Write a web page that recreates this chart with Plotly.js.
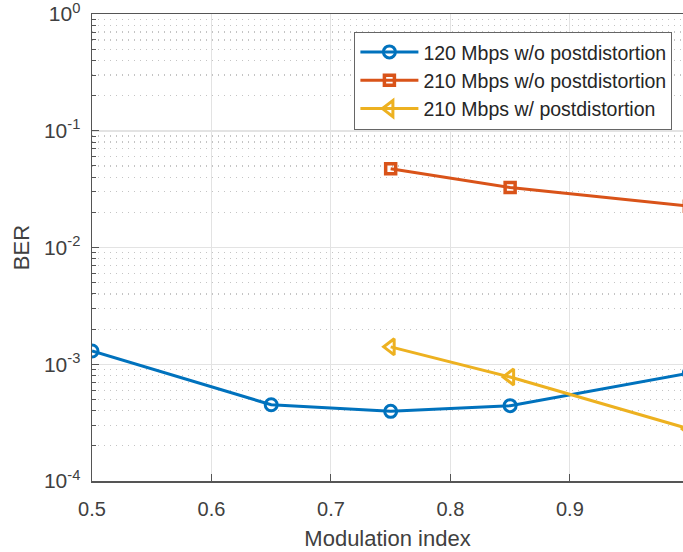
<!DOCTYPE html>
<html>
<head>
<meta charset="utf-8">
<script src="https://cdn.plot.ly/plotly-3.0.1.min.js"></script>
<style>html,body{margin:0;padding:0;background:#fff;}#chart{width:683px;height:552px;}</style>
</head>
<body>
<div id="chart"></div>
<script>
const modIndex = [0.5, 0.65, 0.75, 0.85, 1.0];
const ber120 = [1.30e-3, 4.5e-4, 3.95e-4, 4.42e-4, 8.4e-4];
const modIndex210 = [0.75, 0.85, 1.0];
const ber210NoPD = [0.0472, 0.0326, 0.0226];
const ber210PD = [1.41e-3, 7.78e-4, 2.79e-4];
const seriesNames = ['120 Mbps w/o postdistortion', '210 Mbps w/o postdistortion', '210 Mbps w/ postdistortion'];
const xTickVals = [0.5, 0.6, 0.7, 0.8, 0.9, 1.0];
const xTickText = ['0.5', '0.6', '0.7', '0.8', '0.9', '1'];
const yTickVals = [1e-4, 1e-3, 1e-2, 1e-1, 1];
const yTickText = ['10<sup>-4</sup>', '10<sup>-3</sup>', '10<sup>-2</sup>', '10<sup>-1</sup>', '10<sup>0</sup>'];

const FONT = 'Liberation Sans, Arial, Helvetica, sans-serif';
const traces = [
  {x: modIndex, y: ber120, name: seriesNames[0], mode: 'lines+markers',
   line: {color: '#0072BD', width: 3},
   marker: {symbol: 'circle-open', size: 12, color: '#0072BD', line: {width: 3, color: '#0072BD'}}},
  {x: modIndex210, y: ber210NoPD, name: seriesNames[1], mode: 'lines+markers',
   line: {color: '#D95319', width: 3},
   marker: {symbol: 'square-open', size: 10, color: '#D95319', line: {width: 3.5, color: '#D95319'}}},
  {x: modIndex210, y: ber210PD, name: seriesNames[2], mode: 'lines+markers',
   line: {color: '#EDB120', width: 3},
   marker: {symbol: 'triangle-left-open', size: 14, color: '#EDB120', line: {width: 3, color: '#EDB120'}}}
];

const layout = {
  width: 683, height: 552,
  margin: {l: 92, r: 0, t: 14, b: 71, pad: 0},
  paper_bgcolor: '#fff', plot_bgcolor: '#fff',
  font: {family: FONT, color: '#333', size: 19},
  showlegend: true,
  legend: {x: 0.444, y: 0.962, xanchor: 'left', yanchor: 'top',
    bgcolor: '#fff', bordercolor: '#666', borderwidth: 1,
    font: {family: FONT, size: 19.5, color: '#262626'}, itemwidth: 58,
    tracegroupgap: 0},
  xaxis: {
    range: [0.5, 0.9947], tickmode: 'array', tickvals: xTickVals, ticktext: xTickText,
    ticks: 'inside', ticklen: 7, tickcolor: '#555', tickwidth: 1,
    showline: true, linecolor: '#555', linewidth: 1.5, mirror: true,
    showgrid: true, gridcolor: '#e3e3e3', gridwidth: 1, zeroline: false,
    tickfont: {family: FONT, size: 20, color: '#404040'}, ticklabelstandoff: 9,
    title: {text: 'Modulation index', font: {family: FONT, size: 22, color: '#404040'}, standoff: 12}
  },
  yaxis: {
    type: 'log', range: [-4, 0], tickmode: 'array', tickvals: yTickVals, ticktext: yTickText,
    ticks: 'inside', ticklen: 7, tickcolor: '#555', tickwidth: 1,
    showline: true, linecolor: '#555', linewidth: 1.5, mirror: true,
    showgrid: true, gridcolor: '#e3e3e3', gridwidth: 1.5, zeroline: false,
    tickfont: {family: FONT, size: 21, color: '#404040'}, ticklabelstandoff: 6,
    ticklabeloverflow: 'allow',
    minor: {dtick: 'D1', ticks: 'inside', ticklen: 4, tickcolor: '#555',
            showgrid: true, gridcolor: '#c4c4c4', griddash: '1px,5px', gridwidth: 1.2},
    title: {text: 'BER', font: {family: FONT, size: 22, color: '#404040'}, standoff: 8}
  }
};

Plotly.newPlot('chart', traces, layout, {displayModeBar: false, staticPlot: true});
</script>
</body>
</html>
